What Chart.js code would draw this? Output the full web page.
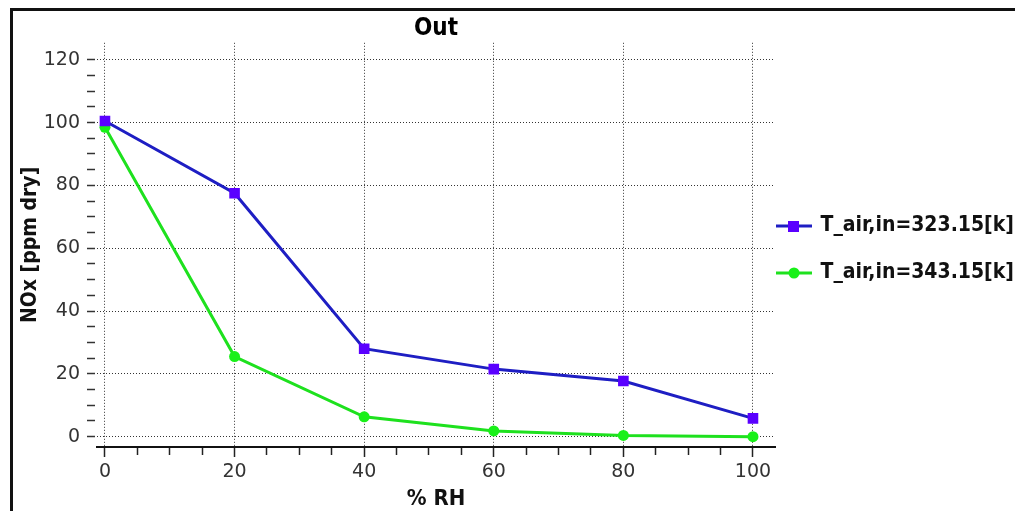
<!DOCTYPE html>
<html>
<head>
<meta charset="utf-8">
<title>Out</title>
<script src="https://cdn.jsdelivr.net/npm/chart.js@4/dist/chart.umd.min.js"></script>
<style>
    html, body { margin: 0; padding: 0; background: #fff; overflow: hidden; }
    #frame {
        position: absolute; left: 10px; top: 8px; width: 1005px; height: 503px;
        border-top: 3px solid #111; border-left: 3px solid #111;
    }
    #box { position: relative; width: 1002px; height: 500px; }
</style>
</head>
<body>
<div id="frame"><div id="box"><canvas id="noxChart"></canvas></div></div>
<script>
// values
var rh = [0, 20, 40, 60, 80, 100];
var noxT323 = [100.5, 77.5, 28.0, 21.5, 17.7, 5.8];
var noxT343 = [98.5, 25.5, 6.3, 1.8, 0.4, 0.0];
var seriesNames = ['T_air,in=323.15[k]', 'T_air,in=343.15[k]'];
var xTicks = [0, 5, 10, 15, 20, 25, 30, 35, 40, 45, 50, 55, 60, 65, 70, 75, 80, 85, 90, 95, 100];
var yTicks = [0, 5, 10, 15, 20, 25, 30, 35, 40, 45, 50, 55, 60, 65, 70, 75, 80, 85, 90, 95, 100, 105, 110, 115, 120];

var fontFamily = "'DejaVu Sans Condensed', 'DejaVu Sans', sans-serif";
var tickFont = { family: "'DejaVu Sans', sans-serif", size: 19 };
var gridColor = '#333';

function toPoints(values) {
    return rh.map(function (x, i) { return { x: x, y: values[i] }; });
}

// small line+marker picture for the legend entries
function legendIcon(lineColor, markColor, square) {
    var c = document.createElement('canvas');
    c.width = 36; c.height = 14;
    var g = c.getContext('2d');
    g.strokeStyle = lineColor; g.lineWidth = 3;
    g.beginPath(); g.moveTo(0, 7); g.lineTo(36, 7); g.stroke();
    g.fillStyle = markColor;
    if (square) {
        g.fillRect(12, 2, 11, 11);
    } else {
        g.beginPath(); g.arc(18, 7, 5.5, 0, Math.PI * 2); g.fill();
    }
    return c;
}
var legendIcons = [
    legendIcon('rgb(30,30,195)', 'rgb(90,0,255)', true),
    legendIcon('rgb(30,225,30)', 'rgb(25,240,25)', false)
];

function isMajor(ctx) {
    return ctx.tick && ctx.tick.value % 20 === 0;
}

var ctx = document.getElementById('noxChart').getContext('2d');
var noxChart = new Chart(ctx, {
    type: 'line',
    data: {
        datasets: [
            {
                label: seriesNames[0],
                data: toPoints(noxT323),
                borderColor: 'rgb(30,30,195)',
                backgroundColor: 'rgb(90,0,255)',
                borderWidth: 3,
                pointStyle: 'rect',
                pointRadius: 7.5,
                pointBorderWidth: 0,
                pointBackgroundColor: 'rgb(90,0,255)',
                tension: 0
            },
            {
                label: seriesNames[1],
                data: toPoints(noxT343),
                borderColor: 'rgb(30,225,30)',
                backgroundColor: 'rgb(25,240,25)',
                borderWidth: 3,
                pointStyle: 'circle',
                pointRadius: 5.5,
                pointBorderWidth: 0,
                pointBackgroundColor: 'rgb(25,240,25)',
                tension: 0
            }
        ]
    },
    options: {
        responsive: true,
        maintainAspectRatio: false,
        animation: false,
        layout: { padding: 0 },
        plugins: {
            title: {
                display: true,
                text: 'Out',
                fullSize: false,
                color: '#000',
                font: { family: fontFamily, size: 24, weight: 'bold' },
                padding: { top: 3, bottom: 0 }
            },
            legend: {
                position: 'right',
                maxWidth: 240,
                labels: {
                    usePointStyle: true,
                    pointStyleWidth: 32,
                    padding: 3,
                    color: '#111',
                    font: { family: fontFamily, size: 21, weight: 'bold', lineHeight: '44px' },
                    generateLabels: function (chart) {
                        var items = Chart.defaults.plugins.legend.labels.generateLabels(chart);
                        return items.map(function (item, i) {
                            item.text = [item.text];
                            item.pointStyle = legendIcons[i];
                            return item;
                        });
                    }
                }
            },
            tooltip: { enabled: false }
        },
        scales: {
            x: {
                type: 'linear',
                min: -1.23,
                max: 103.4,
                afterBuildTicks: function (scale) {
                    scale.ticks = xTicks.map(function (v) { return { value: v }; });
                },
                afterFit: function (scale) { scale.height = 64; },
                ticks: {
                    autoSkip: false,
                    maxRotation: 0,
                    padding: 4,
                    color: '#333',
                    font: tickFont,
                    callback: function (v) { return v % 20 === 0 ? v : ''; }
                },
                grid: {
                    color: function (c) { return isMajor(c) ? gridColor : 'rgba(0,0,0,0)'; },
                    tickColor: '#222',
                    tickLength: 10,
                    tickWidth: 1.5,
                    tickBorderDash: function (c) { return isMajor(c) ? [] : [7, 20]; }
                },
                border: { display: true, color: '#111', width: 2, dash: [1, 2] },
                title: {
                    display: true,
                    text: '% RH',
                    color: '#111',
                    font: { family: fontFamily, size: 22, weight: 'bold', lineHeight: 1 },
                    padding: { top: 3, bottom: 1 }
                }
            },
            y: {
                type: 'linear',
                min: -3.3,
                max: 125.4,
                afterBuildTicks: function (scale) {
                    scale.ticks = yTicks.map(function (v) { return { value: v }; });
                },
                afterFit: function (scale) { scale.width = 84; },
                ticks: {
                    autoSkip: false,
                    padding: 7,
                    color: '#333',
                    font: tickFont,
                    callback: function (v) { return v % 20 === 0 ? v : ''; }
                },
                grid: {
                    color: function (c) { return isMajor(c) ? gridColor : 'rgba(0,0,0,0)'; },
                    tickColor: '#333',
                    tickLength: 10,
                    tickWidth: 1.5,
                    tickBorderDash: [8, 10]
                },
                border: { display: false, dash: [1, 2] },
                title: {
                    display: true,
                    text: 'NOx [ppm dry]',
                    color: '#111',
                    font: { family: fontFamily, size: 21, weight: 'bold' },
                    padding: { top: 5, bottom: 2 }
                }
            }
        }
    }
});
</script>
</body>
</html>
